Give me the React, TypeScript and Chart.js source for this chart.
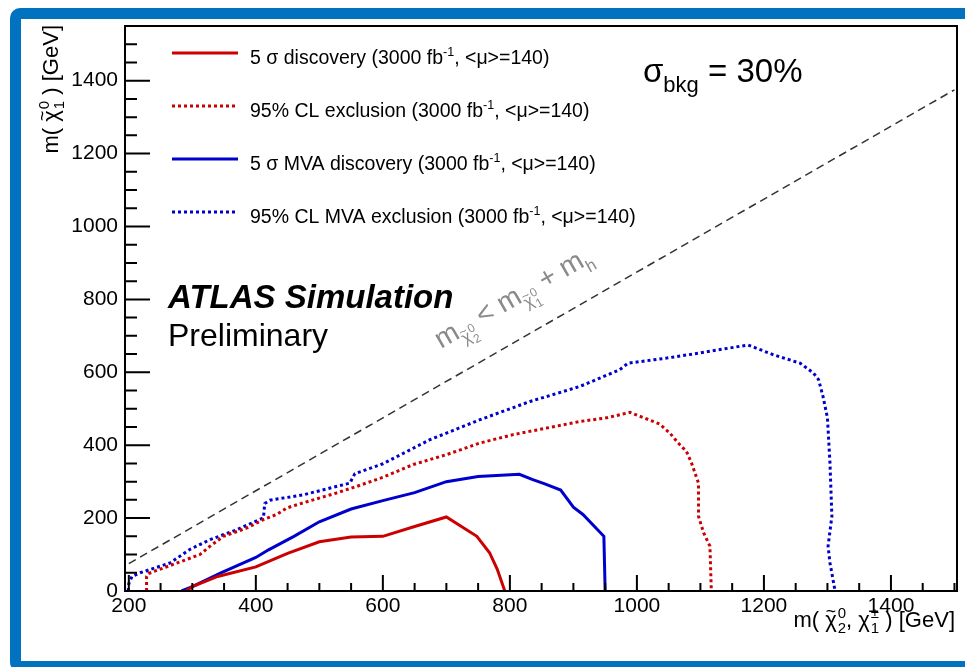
import React, { useEffect, useRef } from 'react';
import { Chart, registerables } from 'chart.js';

Chart.register(...registerables);

// ---- data (GeV) ----
const discX = [290, 300, 340, 400, 450, 500, 550, 600, 650, 700, 748, 768, 780, 792];
const discY = [0, 12, 40, 66, 103, 135, 148, 150, 177, 203, 150, 105, 60, 0];

const exclX = [228, 228, 231, 270, 312, 328, 349, 386, 412, 433, 449, 475, 527, 559, 600, 648, 700, 753, 805, 858, 910, 952, 989, 1036, 1052, 1065, 1078, 1086, 1097, 1097, 1105, 1115, 1117, 1117];
const exclY = [0, 40, 48, 73, 100, 123, 150, 173, 196, 210, 228, 242, 269, 287, 312, 347, 374, 406, 429, 447, 465, 475, 490, 458, 433, 406, 383, 351, 296, 205, 160, 123, 10, 0];

const mvaDiscX = [283, 300, 345, 400, 420, 460, 500, 550, 600, 650, 700, 750, 815, 835, 855, 880, 900, 915, 948, 950];
const mvaDiscY = [0, 12, 50, 92, 113, 150, 190, 225, 248, 270, 300, 314, 320, 306, 294, 277, 230, 210, 150, 0];

const mvaExclX = [199, 200, 205, 218, 265, 296, 328, 370, 412, 414, 422, 475, 548, 556, 600, 674, 753, 832, 910, 973, 986, 1047, 1099, 1175, 1215, 1257, 1278, 1286, 1293, 1300, 1304, 1307, 1301, 1304, 1312];
const mvaExclY = [0, 20, 40, 50, 77, 114, 141, 168, 201, 240, 249, 264, 296, 322, 349, 415, 470, 520, 561, 607, 625, 639, 653, 675, 648, 625, 598, 580, 534, 475, 351, 205, 123, 77, 0];

// kinematic limit m(chi2) = m(chi1) + m(h)
const kinX = [200, 1500];
const kinY = [75, 1375];

const xTickValues = [200, 400, 600, 800, 1000, 1200, 1400];
const yTickValues = [0, 200, 400, 600, 800, 1000, 1200, 1400];

const legendLabels = ['5 σ discovery', '95% CL exclusion', '5 σ MVA discovery', '95% CL MVA exclusion'];

const RED = '#cc0000';
const BLUE = '#0000cc';
const FAM = '"Liberation Sans", Arial, Helvetica, sans-serif';

type Seg = { s: string; f: number; dy?: number; st?: string; tilde?: boolean; sup?: string; sub?: string; fs?: number };

function font(f: number, st = '') {
  return `${st} ${f}px ${FAM}`.trim();
}

function segW(ctx: CanvasRenderingContext2D, g: Seg) {
  ctx.font = font(g.f, g.st);
  let w = ctx.measureText(g.s).width;
  if (g.sup || g.sub) {
    ctx.font = font(g.fs || g.f * 0.65);
    w += Math.max(ctx.measureText(g.sup || '').width, ctx.measureText(g.sub || '').width) + 1;
  }
  return w;
}

function drawRich(ctx: CanvasRenderingContext2D, segs: Seg[], x: number, y: number, align: 'left' | 'right' = 'left') {
  const total = segs.reduce((a, g) => a + segW(ctx, g), 0);
  let cx = align === 'right' ? x - total : x;
  ctx.textAlign = 'left';
  ctx.textBaseline = 'alphabetic';
  for (const g of segs) {
    const dy = g.dy || 0;
    ctx.font = font(g.f, g.st);
    const w = ctx.measureText(g.s).width;
    ctx.fillText(g.s, cx, y + dy);
    if (g.tilde) {
      ctx.font = font(g.f * 0.8);
      const tw = ctx.measureText('~').width;
      ctx.fillText('~', cx + w / 2 - tw / 2, y + dy - g.f * 0.45);
    }
    cx += w;
    if (g.sup || g.sub) {
      const fs = g.fs || g.f * 0.65;
      ctx.font = font(fs);
      const sw = Math.max(ctx.measureText(g.sup || '').width, ctx.measureText(g.sub || '').width);
      if (g.sup) ctx.fillText(g.sup, cx + 1, y + dy - g.f * 0.42);
      if (g.sub) ctx.fillText(g.sub, cx + 1, y + dy + g.f * 0.28);
      cx += sw + 1;
    }
  }
}

const toPts = (xs: number[], ys: number[]) => xs.map((v, i) => ({ x: v, y: ys[i] }));

const decor = {
  id: 'decor',
  afterDraw(chart: any) {
    const { ctx, chartArea: ca } = chart;
    const xs = chart.scales.x;
    const ys = chart.scales.y;
    ctx.save();
    // frame
    ctx.strokeStyle = '#000';
    ctx.lineWidth = 2;
    ctx.setLineDash([]);
    ctx.strokeRect(ca.left, ca.top, ca.right - ca.left, ca.bottom - ca.top);
    // inward ticks
    ctx.beginPath();
    xs.ticks.forEach((t: any) => {
      if (t.value % 50 !== 0) return;
      const px = xs.getPixelForValue(t.value);
      const len = xTickValues.includes(t.value) ? 16 : 8;
      ctx.moveTo(px, ca.bottom);
      ctx.lineTo(px, ca.bottom - len);
    });
    ys.ticks.forEach((t: any) => {
      if (t.value % 50 !== 0) return;
      const py = ys.getPixelForValue(t.value);
      const len = yTickValues.includes(t.value) ? 25 : 12;
      ctx.moveTo(ca.left, py);
      ctx.lineTo(ca.left + len, py);
    });
    ctx.stroke();

    ctx.fillStyle = '#000';
    // axis titles
    drawRich(ctx, [
      { s: 'm( ', f: 22 },
      { s: 'χ', f: 22, tilde: true, sup: '0', sub: '2', fs: 15 },
      { s: ', ', f: 22 },
      { s: 'χ', f: 22, sup: '±', sub: '1', fs: 15 },
      { s: ' ) [GeV]', f: 22 },
    ], 955, 627, 'right');
    ctx.save();
    ctx.translate(58, 25);
    ctx.rotate(-Math.PI / 2);
    drawRich(ctx, [
      { s: 'm( ', f: 22 },
      { s: 'χ', f: 22, tilde: true, sup: '0', sub: '1', fs: 15 },
      { s: ' ) [GeV]', f: 22 },
    ], 0, 0, 'right');
    ctx.restore();

    // legend
    const rows = [53, 106, 159, 212];
    chart.data.datasets.slice(0, 4).forEach((ds: any, i: number) => {
      ctx.strokeStyle = ds.borderColor;
      ctx.lineWidth = ds.borderWidth;
      ctx.setLineDash(ds.borderDash || []);
      ctx.beginPath();
      ctx.moveTo(172, rows[i]);
      ctx.lineTo(238, rows[i]);
      ctx.stroke();
      ctx.setLineDash([]);
      ctx.fillStyle = '#000';
      drawRich(ctx, [
        { s: legendLabels[i] + ' (3000 fb', f: 19.5 },
        { s: '-1', f: 12.5, dy: -8 },
        { s: ', <μ>=140)', f: 19.5 },
      ], 250, rows[i] + 11);
    });

    // sigma_bkg
    ctx.fillStyle = '#000';
    drawRich(ctx, [
      { s: 'σ', f: 33 },
      { s: 'bkg', f: 22, dy: 10 },
      { s: ' = 30%', f: 33 },
    ], 643, 82);

    // ATLAS label
    ctx.font = font(33, 'italic bold');
    ctx.fillText('ATLAS Simulation', 168, 308);
    ctx.font = font(32);
    ctx.fillText('Preliminary', 168, 346);

    // diagonal label
    const p1x = xs.getPixelForValue(kinX[0]);
    const p1y = ys.getPixelForValue(kinY[0]);
    const p2x = xs.getPixelForValue(kinX[1]);
    const p2y = ys.getPixelForValue(kinY[1]);
    const ang = Math.atan2(p1y - p2y, p2x - p1x);
    ctx.save();
    ctx.translate(441, 349);
    ctx.rotate(-ang);
    ctx.fillStyle = '#8a8a8a';
    drawRich(ctx, [
      { s: 'm', f: 28 },
      { s: 'χ', f: 17, dy: 8, tilde: true, sup: '0', sub: '2', fs: 12 },
      { s: ' < m', f: 28 },
      { s: 'χ', f: 17, dy: 8, tilde: true, sup: '0', sub: '1', fs: 12 },
      { s: ' + m', f: 28 },
      { s: 'h', f: 17, dy: 8 },
    ], 0, 0);
    ctx.restore();
    ctx.restore();
  },
};

export default function App() {
  const ref = useRef<HTMLCanvasElement>(null);
  useEffect(() => {
    const cfg: any = {
      type: 'line',
      data: {
        datasets: [
          { label: legendLabels[0], data: toPts(discX, discY), borderColor: RED, borderWidth: 3 },
          { label: legendLabels[1], data: toPts(exclX, exclY), borderColor: RED, borderWidth: 3, borderDash: [3, 3] },
          { label: legendLabels[2], data: toPts(mvaDiscX, mvaDiscY), borderColor: BLUE, borderWidth: 3 },
          { label: legendLabels[3], data: toPts(mvaExclX, mvaExclY), borderColor: BLUE, borderWidth: 3, borderDash: [3, 3] },
          { label: 'kinematic limit', data: toPts(kinX, kinY), borderColor: '#333', borderWidth: 1.5, borderDash: [8, 5] },
        ],
      },
      options: {
        animation: false,
        responsive: false,
        maintainAspectRatio: false,
        layout: { padding: { left: 0, right: 8, top: 26, bottom: 0 } },
        plugins: { legend: { display: false }, tooltip: { enabled: false } },
        elements: { point: { radius: 0 }, line: { tension: 0, borderCapStyle: 'butt', fill: false } },
        scales: {
          x: {
            type: 'linear',
            min: 194,
            max: 1504,
            afterFit: (s: any) => { s.height = 76; },
            grid: { display: false, drawTicks: false },
            border: { display: false },
            ticks: {
              stepSize: 50, autoSkip: false, includeBounds: false, maxRotation: 0, padding: 3,
              color: '#000', font: { family: FAM, size: 21 },
              callback: (v: number) => (xTickValues.includes(v) ? String(v) : ''),
            },
          },
          y: {
            type: 'linear',
            min: 0,
            max: 1550,
            afterFit: (s: any) => { s.width = 125; },
            grid: { display: false, drawTicks: false },
            border: { display: false },
            ticks: {
              stepSize: 50, autoSkip: false, includeBounds: false, padding: 7,
              color: '#000', font: { family: FAM, size: 21 },
              callback: (v: number) => (yTickValues.includes(v) ? String(v) : ''),
            },
          },
        },
      },
      plugins: [decor],
    };
    const chart = new Chart(ref.current as HTMLCanvasElement, cfg);
    return () => chart.destroy();
  }, []);
  return (
    <div style={{ position: 'fixed', left: 0, top: 0, width: 965, height: 667, overflow: 'hidden', background: '#fff' }}>
      <div style={{ position: 'absolute', left: 10, top: 8, width: 1000, height: 664, boxSizing: 'border-box', border: '11px solid #0072bf', borderRadius: '10px 0 0 10px' }} />
      <canvas ref={ref} width={965} height={667} style={{ position: 'absolute', left: 0, top: 0 }} />
    </div>
  );
}
